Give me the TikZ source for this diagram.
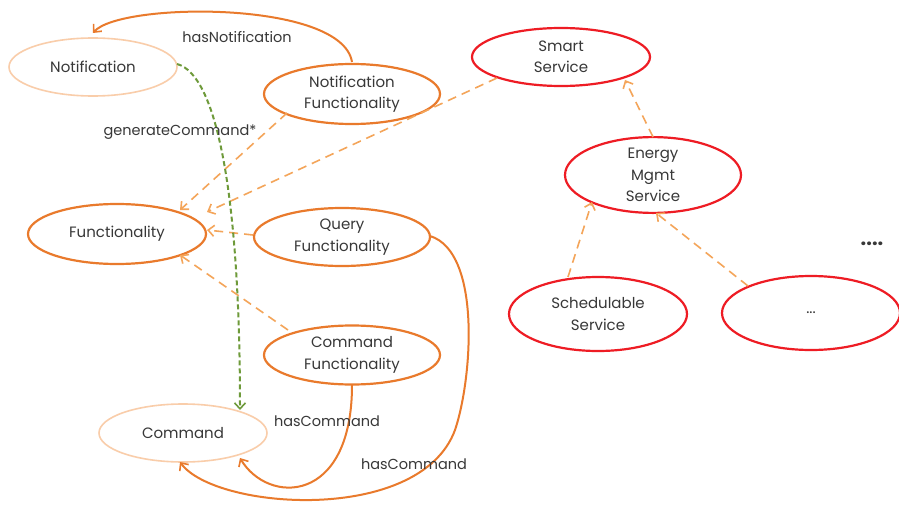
\documentclass[tikz,border=0pt]{standalone}
\usepackage{fontspec}
\setmainfont{Poppins}
\usetikzlibrary{arrows.meta,shapes.geometric}
\definecolor{orangeA}{HTML}{E97A2C}
\definecolor{orangeL}{HTML}{F4A55A}
\definecolor{peach}{HTML}{F9CDAA}
\definecolor{redA}{HTML}{EE1C24}
\definecolor{greenA}{HTML}{6E9A3A}
\definecolor{txt}{HTML}{383838}
\tikzset{
  every node/.style={text=txt, font=\fontsize{15}{21.5}\selectfont},
  ell/.style={ellipse, line width=2.2pt, inner sep=0pt},
  orangeell/.style={ell, draw=orangeA},
  peachell/.style={ell, draw=peach, line width=1.6pt},
  redell/.style={ell, draw=redA},
  tip/.style={-{Straight Barb[length=6pt,width=11pt,line width=1.6pt]}},
  isa/.style={tip, draw=orangeL, line width=1.6pt, dash pattern=on 9pt off 6pt},
  rel/.style={tip, draw=orangeA, line width=2pt},
  gen/.style={tip, draw=greenA, line width=2pt, dash pattern=on 5pt off 3pt},
  lbl/.style={font=\fontsize{14.5}{17}\selectfont}
}
\begin{document}
\begin{tikzpicture}[x=1pt,y=-1pt]
\useasboundingbox (0,0) rectangle (899,508);
\fill[white] (0,0) rectangle (899,508);

% left side: notifications, functionalities, commands
\node[peachell, minimum width=168pt, minimum height=58pt] (notif) at (93,67) {Notification};
\node[orangeell, minimum width=176pt, minimum height=60pt, align=center] (nfun) at (352,94) {Notification\\Functionality};
\node[orangeell, minimum width=178pt, minimum height=60pt] (fun) at (117,234) {Functionality};
\node[orangeell, minimum width=176pt, minimum height=58pt, align=center] (qfun) at (342,237) {Query\\Functionality};
\node[orangeell, minimum width=176pt, minimum height=59pt, align=center] (cfun) at (352,355) {Command\\Functionality};
\node[peachell, minimum width=168pt, minimum height=58pt] (cmd) at (183,433) {Command};

% right side: services
\node[redell, minimum width=178pt, minimum height=58pt, align=center] (smart) at (561,57) {Smart\\Service};
\node[redell, minimum width=176pt, minimum height=74pt, align=center] (energy) at (653,175) {Energy\\Mgmt\\Service};
\node[redell, minimum width=178pt, minimum height=74pt, align=center] (sched) at (598,314) {Schedulable\\Service};
\node[redell, minimum width=178pt, minimum height=74pt] (other) at (811,313) {...};
\node[font=\fontsize{20}{22}\selectfont\bfseries] (more) at (872,244) {....};

% end points of the subclass links on the ellipse borders
\coordinate (nfunSW) at (287,113);
\coordinate (funNE1) at (180,210);
\coordinate (smartSW) at (497,78);
\coordinate (funNE2) at (207,212);
\coordinate (qfunW) at (253,235);
\coordinate (funE) at (207,230);
\coordinate (cfunNW) at (288,330);
\coordinate (funSE) at (180,255);
\coordinate (energyN) at (653,137);
\coordinate (smartSE) at (625,80);
\coordinate (schedN) at (568,277);
\coordinate (energySW) at (592,202);
\coordinate (otherNW) at (748,286);
\coordinate (energyS) at (656,213);

% subclass links
\draw[isa] (nfunSW) -- (funNE1);
\draw[isa] (smartSW) -- (funNE2);
\draw[isa] (qfunW) -- (funE);
\draw[isa] (cfunNW) -- (funSE);
\draw[isa] (energyN) -- (smartSE);
\draw[isa] (schedN) -- (energySW);
\draw[isa] (otherNW) -- (energyS);

% properties
\coordinate (nfTop) at (352,62);
\coordinate (notifTip) at (93,33);
\draw[rel] (nfTop) .. controls (342,0) and (120,2) .. (notifTip);
\node[lbl] (lhasN) at (237,37) {hasNotification};

\coordinate (notifR) at (177,64);
\coordinate (cmdTop) at (240,410);
\draw[gen] (notifR) .. controls (218,75) and (240,200) .. (cmdTop);
\node[lbl] (lgen) at (180,132) {generateCommand*};

\coordinate (cfBot) at (352,385);
\coordinate (cmdTip1) at (240,458);
\draw[rel] (cfBot) .. controls (352,505) and (268,505) .. (cmdTip1);
\node[lbl] (lhc1) at (327,421) {hasCommand};

\coordinate (qfR) at (430,236);
\coordinate (qfBend) at (455,430);
\coordinate (cmdTip2) at (180,462);
\draw[rel] (qfR) .. controls (482,252) and (472,380) .. (qfBend)
  .. controls (420,525) and (215,510) .. (cmdTip2);
\node[lbl] (lhc2) at (414,464) {hasCommand};
\end{tikzpicture}
\end{document}
